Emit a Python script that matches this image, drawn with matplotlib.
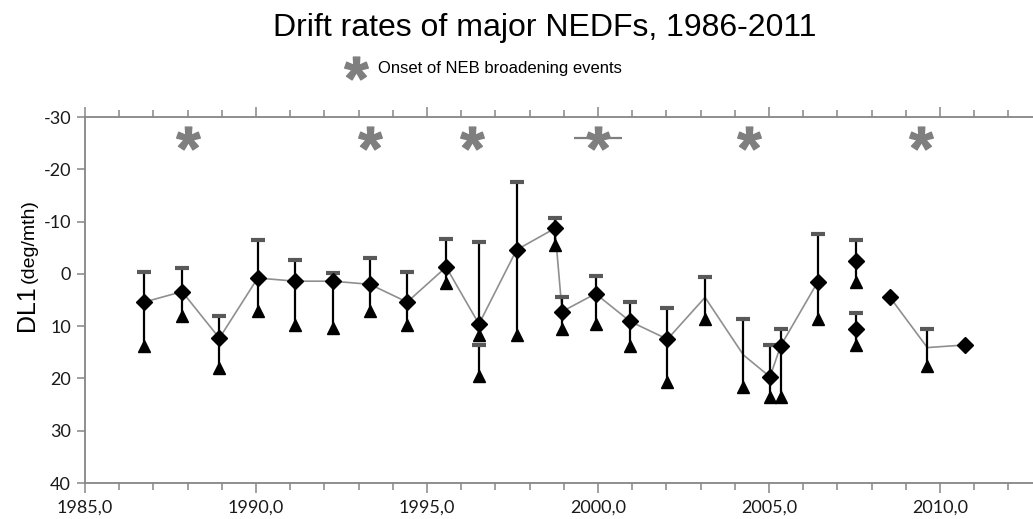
import numpy as np
import matplotlib
matplotlib.use("Agg")
import matplotlib.pyplot as plt

plt.rcParams['mathtext.fontset'] = 'custom'
plt.rcParams['mathtext.bf'] = 'Liberation Sans:bold'
plt.rcParams['mathtext.rm'] = 'Liberation Sans'
plt.rcParams['axes.unicode_minus'] = False

# mean drift (diamonds) -- shown=0 where only the line vertex exists
year = [1986.73, 1987.84, 1988.93, 1990.05, 1991.15, 1992.24, 1993.33, 1994.42,
        1995.56, 1996.52, 1997.62, 1998.74, 1998.95, 1999.93, 2000.94, 2002.03,
        2003.13, 2004.25, 2005.03, 2005.34, 2006.42,
        2007.54, 2007.54,
        2008.54, 2009.63, 2010.73]
mean = [5.4, 3.4, 12.3, 0.8, 1.4, 1.4, 2.0, 5.4,
        -1.3, 9.6, -4.6, -8.7, 7.2, 3.8, 9.1, 12.5,
        4.5, 15.5, 19.7, 13.8, 1.6,
        -2.5, 10.5,
        4.5, 14.1, 13.6]
shown = [1, 1, 1, 1, 1, 1, 1, 1,
         1, 1, 1, 1, 1, 1, 1, 1,
         0, 0, 1, 1, 1,
         1, 1,
         1, 0, 1]
# which connected run each point belongs to (0 = not connected)
run = [1, 1, 1, 1, 1, 1, 1, 1,
       1, 1, 1, 1, 1, 1, 1, 1,
       1, 1, 1, 1, 1,
       0, 0,
       2, 2, 2]

# ranges: top cap and lower end (triangle)
bar_year = [1986.73, 1987.84, 1988.93, 1990.05, 1991.15, 1992.24, 1993.33, 1994.42,
            1995.56, 1996.52, 1996.52, 1997.62, 1998.74, 1998.95, 1999.93, 2000.94,
            2002.03, 2003.13, 2004.25, 2005.03, 2005.34, 2006.42, 2007.54, 2007.54,
            2009.63]
bar_top = [-0.4, -1.2, 8.0, -6.5, -2.7, -0.2, -3.0, -0.4,
           -6.6, -6.0, 13.6, -17.6, -10.6, 4.5, 0.5, 5.4,
           6.5, 0.6, 8.6, 13.6, 10.6, -7.6, -6.5, 7.5,
           10.6]
bar_low = [13.8, 8.0, 18.0, 7.1, 9.8, 10.4, 7.1, 9.8,
           1.8, 11.7, 19.5, 11.7, -5.5, 10.6, 9.6, 13.8,
           20.6, 8.6, 21.6, 23.6, 23.6, 8.6, 1.5, 13.7,
           17.6]

# NEB broadening onsets
onset_year = [1988.0, 1993.33, 1996.31, 2000.0, 2004.42, 2009.44]
onset_y = [-25.9, -25.9, -25.9, -25.9, -25.9, -25.9]
onset_xerr = [0, 0, 0, 0.69, 0, 0]

year = np.array(year)
mean = np.array(mean)
shown = np.array(shown, dtype=bool)
run = np.array(run)

fig = plt.figure(figsize=(10.33, 5.19), dpi=100)
ax = fig.add_axes([85 / 1033, 1 - 483 / 519, 1 - 85 / 1033, (483 - 117) / 519])

grey = '#868686'
star_grey = '#7f7f7f'

for r in (1, 2):
    sel = run == r
    ax.plot(year[sel], mean[sel], color='#8f8f8f', lw=1.2, zorder=2)

ax.vlines(bar_year, bar_top, bar_low, color='black', lw=1.6, zorder=3)
ax.plot(bar_year, bar_top, ls='none', marker='_', ms=10, mew=3,
        color='#595959', zorder=4)
ax.plot(bar_year, bar_low, ls='none', marker='^', ms=8, color='black',
        mec='black', zorder=4)
ax.plot(year[shown], mean[shown], ls='none', marker='D', ms=8,
        color='black', zorder=5)

ax.errorbar(onset_year, onset_y, xerr=onset_xerr, fmt='none', ecolor=star_grey,
            elinewidth=1.6, capsize=0, zorder=3)
ax.plot(onset_year, onset_y, ls='none', marker=r'$\mathbf{*}$', ms=17,
        color=star_grey, zorder=4, label='Onset of NEB broadening events')

ax.set_xlim(1985, 2012.72)
ax.set_ylim(40, -30)
ax.set_xticks(np.arange(1985, 2015, 5))
ax.set_xticks(np.arange(1985, 2013, 1), minor=True)
ax.set_xticklabels([f'{v},0' for v in range(1985, 2015, 5)])
ax.set_yticks(np.arange(-30, 50, 10))

for s in ('left', 'top', 'bottom'):
    ax.spines[s].set_color(grey)
    ax.spines[s].set_linewidth(1.3)
ax.spines['right'].set_visible(False)

ax.tick_params(axis='both', which='both', color=grey, width=1.1, direction='out',
               labelsize=13, labelcolor='#1a1a1a')
ax.tick_params(axis='x', which='major', length=7, pad=5, top=True)
ax.tick_params(axis='x', which='minor', length=5, top=True)
ax.tick_params(axis='y', length=6, pad=4)
for lab in ax.get_xticklabels() + ax.get_yticklabels():
    lab.set_family('Lato')

fig.text(0.527, 1 - 28 / 519, 'Drift rates of major NEDFs, 1986-2011',
         ha='center', va='center', fontsize=23, family='Liberation Sans')

fig.text(27 / 1033, 1 - 331 / 519, 'DL1', rotation=90, ha='center', va='bottom',
         fontsize=18, family='Liberation Sans')
fig.text(29 / 1033, 1 - 283 / 519, '(deg/mth)', rotation=90, ha='center',
         va='bottom', fontsize=14, family='Liberation Sans')

leg = ax.legend(loc='center', bbox_to_anchor=(485 / 1033, 1 - 69 / 519),
                bbox_transform=fig.transFigure, frameon=False, fontsize=12,
                handlelength=1.0, handletextpad=0.8, borderpad=0,
                markerscale=1.0)
for t in leg.get_texts():
    t.set_family('Liberation Sans')

fig.savefig('out.png', dpi=100)
